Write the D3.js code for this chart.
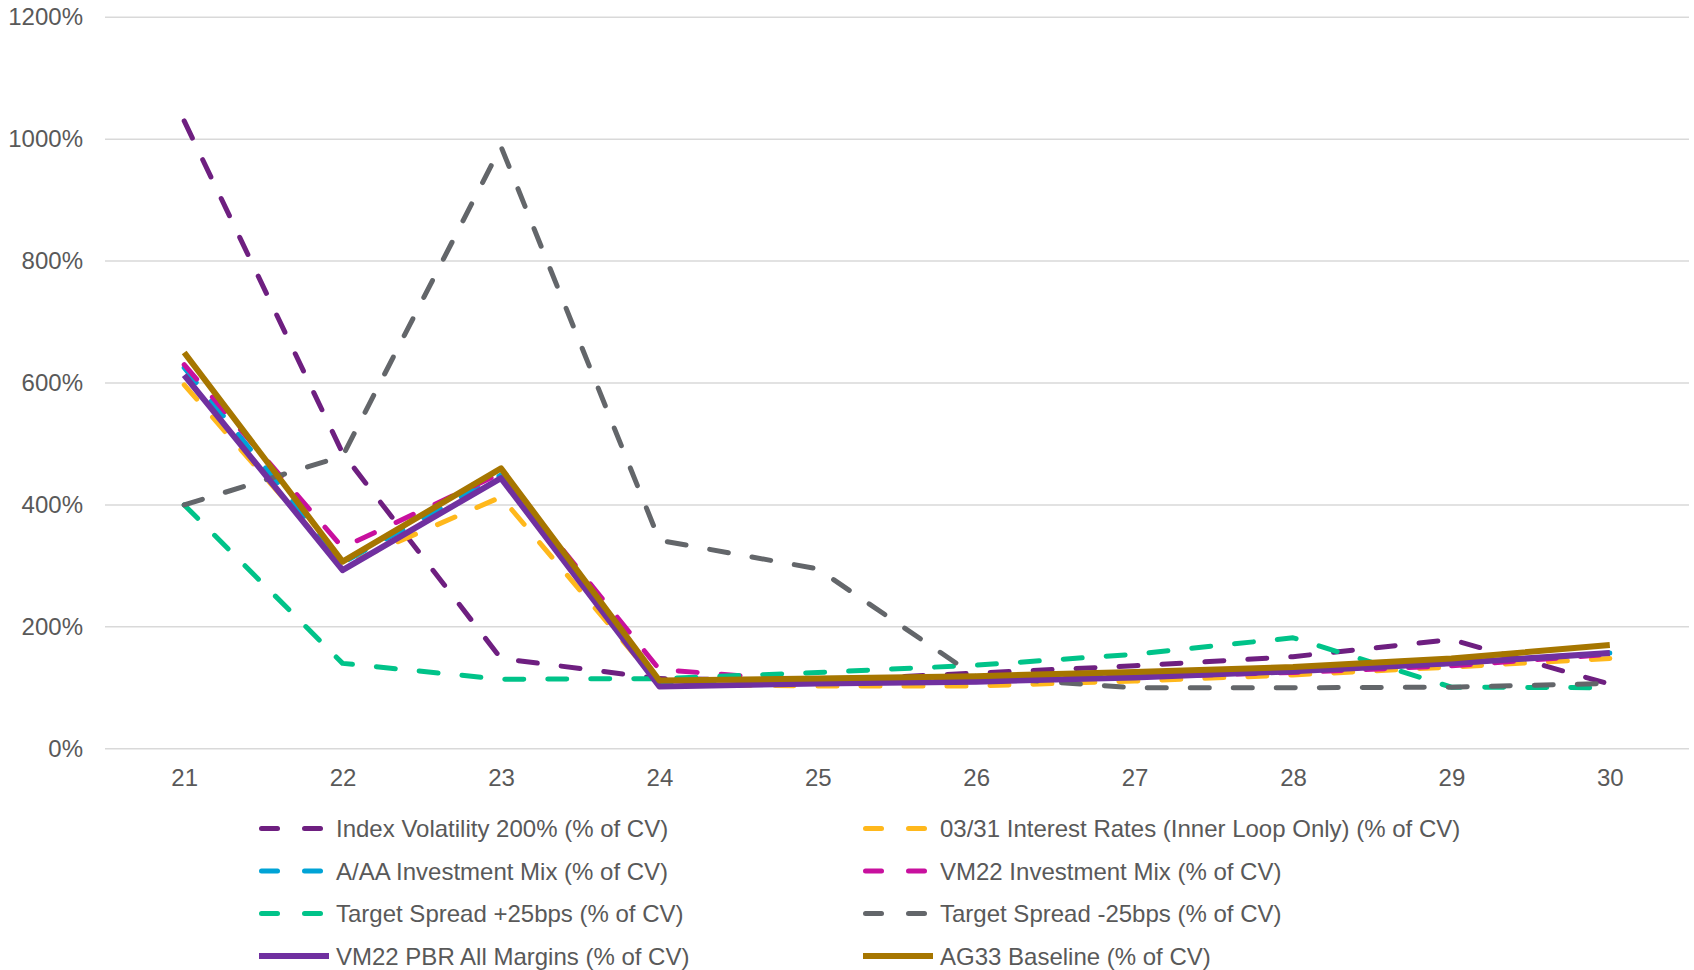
<!DOCTYPE html>
<html><head><meta charset="utf-8">
<script src="https://cdn.jsdelivr.net/npm/d3@7"></script>
<style>
html,body{margin:0;padding:0;background:#fff;}
svg{display:block;font-family:"Liberation Sans",Arial,sans-serif;}
</style></head>
<body><svg id="chart" width="1694" height="970"></svg>
<script>
const categories = ["21","22","23","24","25","26","27","28","29","30"];
const yTicks = [0,200,400,600,800,1000,1200];

const indexVol200   = [1030, 485, 148, 115, 112, 124, 136, 151, 179, 106];
const interest0331  = [597, 300, 413, 106, 103, 103, 111, 121, 134, 148];
const aaaInvMix     = [625, 305, 449, 105, 108, 112, 118, 128, 140, 157];
const vm22InvMix    = [630, 330, 452, 130, 110, 112, 118, 125, 136, 155];
const spreadPlus25  = [400, 140, 114, 115, 125, 137, 155, 182, 101, 100];
const spreadMinus25 = [400, 480, 988, 342, 295, 118, 100, 100, 101, 107];
const vm22PbrAll    = [613, 293, 444, 102, 107, 110, 117, 127, 140, 157];
const ag33Baseline  = [650, 307, 460, 112, 115, 119, 126, 134, 148, 170];

const seriesNames = [
  "Index Volatility 200% (% of CV)",
  "03/31 Interest Rates (Inner Loop Only) (% of CV)",
  "A/AA Investment Mix (% of CV)",
  "VM22 Investment Mix (% of CV)",
  "Target Spread +25bps (% of CV)",
  "Target Spread -25bps (% of CV)",
  "VM22 PBR All Margins (% of CV)",
  "AG33 Baseline (% of CV)"
];
const seriesValues = [indexVol200, interest0331, aaaInvMix, vm22InvMix, spreadPlus25, spreadMinus25, vm22PbrAll, ag33Baseline];
const seriesColors = ["#6E1F80","#FFB81C","#00A3D6","#C8109E","#00C389","#63666A","#7030A0","#A67600"];
const seriesDashed = [true,true,true,true,true,true,false,false];

(function(){
const svg = d3.select("#chart");
const pLeft = 105, pRight = 1689, pTop = 17.3, pBottom = 748.7;
const x = d3.scalePoint().domain(categories).range([pLeft, pRight]).padding(0.5);
const y = d3.scaleLinear().domain([0,1200]).range([pBottom, pTop]);
const fs = 24;
const textColor = "#595959";

svg.append("g").selectAll("line").data(yTicks).join("line")
  .attr("x1", pLeft).attr("x2", pRight)
  .attr("y1", d => y(d)).attr("y2", d => y(d))
  .attr("stroke", "#D9D9D9").attr("stroke-width", 1.5);

const yAxis = d3.axisLeft(y).tickValues(yTicks).tickFormat(d => d + "%").tickSize(0).tickPadding(0);
const yg = svg.append("g").attr("transform", `translate(${pLeft - 22},0)`).call(yAxis);
yg.select(".domain").remove();
yg.selectAll("text").attr("font-size", fs).attr("fill", textColor).attr("font-family", "Liberation Sans, Arial, sans-serif");

const xAxis = d3.axisBottom(x).tickSize(0).tickPadding(0);
const xg = svg.append("g").attr("transform", `translate(0,${pBottom + 20})`).call(xAxis);
xg.select(".domain").remove();
xg.selectAll("text").attr("font-size", fs).attr("fill", textColor).attr("font-family", "Liberation Sans, Arial, sans-serif");

const line = d3.line().x((d,i) => x(categories[i])).y(d => y(d));
seriesValues.forEach((vals, k) => {
  svg.append("path").datum(vals)
    .attr("d", line)
    .attr("fill", "none")
    .attr("stroke", seriesColors[k])
    .attr("stroke-width", seriesDashed[k] ? 5 : 6)
    .attr("stroke-linecap", seriesDashed[k] ? "round" : "butt")
    .attr("stroke-linejoin", "round")
    .attr("stroke-dasharray", seriesDashed[k] ? "19,24" : null);
});

const legX = [259, 863];
const legY0 = 828.6, legDy = 42.5;
seriesNames.forEach((name, k) => {
  const col = k % 2, row = Math.floor(k / 2);
  const gx = legX[col], gy = legY0 + row * legDy;
  const g = svg.append("g");
  if (seriesDashed[k]) {
    [[0,21],[43,64]].forEach(([a,b]) => {
      g.append("line").attr("x1", gx + a + 2.5).attr("x2", gx + b - 2.5)
        .attr("y1", gy).attr("y2", gy)
        .attr("stroke", seriesColors[k]).attr("stroke-width", 5).attr("stroke-linecap", "round");
    });
  } else {
    g.append("line").attr("x1", gx).attr("x2", gx + 70)
      .attr("y1", gy).attr("y2", gy)
      .attr("stroke", seriesColors[k]).attr("stroke-width", 6);
  }
  g.append("text").attr("x", gx + 77).attr("y", gy).attr("dy", "0.35em")
    .attr("font-size", fs).attr("fill", textColor).text(name);
});
})();
</script></body></html>
